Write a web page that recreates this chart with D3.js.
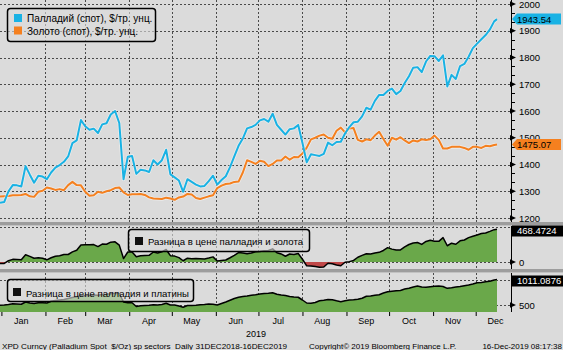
<!DOCTYPE html>
<html>
<head>
<meta charset="utf-8">
<script src="https://cdn.jsdelivr.net/npm/d3@7"></script>
<style>
  html, body { margin: 0; padding: 0; background: #dbdbdb; }
  svg { display: block; font-family: "Liberation Sans", Arial, sans-serif; }
</style>
</head>
<body>
<svg id="chart" width="563" height="350"></svg>
<script>
// Sampling dates (every third calendar day)
const dates = [
  "2018-12-31","2019-01-03","2019-01-06","2019-01-09","2019-01-12","2019-01-15","2019-01-18","2019-01-21","2019-01-24","2019-01-27","2019-01-30",
  "2019-02-02","2019-02-05","2019-02-08","2019-02-11","2019-02-14","2019-02-17","2019-02-20","2019-02-23","2019-02-26",
  "2019-03-01","2019-03-04","2019-03-07","2019-03-10","2019-03-13","2019-03-16","2019-03-19","2019-03-22","2019-03-25","2019-03-28","2019-03-31",
  "2019-04-03","2019-04-06","2019-04-09","2019-04-12","2019-04-15","2019-04-18","2019-04-21","2019-04-24","2019-04-27","2019-04-30",
  "2019-05-03","2019-05-06","2019-05-09","2019-05-12","2019-05-15","2019-05-18","2019-05-21","2019-05-24","2019-05-27","2019-05-30",
  "2019-06-02","2019-06-05","2019-06-08","2019-06-11","2019-06-14","2019-06-17","2019-06-20","2019-06-23","2019-06-26","2019-06-29",
  "2019-07-02","2019-07-05","2019-07-08","2019-07-11","2019-07-14","2019-07-17","2019-07-20","2019-07-23","2019-07-26","2019-07-29",
  "2019-08-01","2019-08-04","2019-08-07","2019-08-10","2019-08-13","2019-08-16","2019-08-19","2019-08-22","2019-08-25","2019-08-28","2019-08-31",
  "2019-09-03","2019-09-06","2019-09-09","2019-09-12","2019-09-15","2019-09-18","2019-09-21","2019-09-24","2019-09-27","2019-09-30",
  "2019-10-03","2019-10-06","2019-10-09","2019-10-12","2019-10-15","2019-10-18","2019-10-21","2019-10-24","2019-10-27","2019-10-30",
  "2019-11-02","2019-11-05","2019-11-08","2019-11-11","2019-11-14","2019-11-17","2019-11-20","2019-11-23","2019-11-26","2019-11-29",
  "2019-12-02","2019-12-05","2019-12-08","2019-12-11","2019-12-14","2019-12-16"
];

// Palladium spot, $/oz
const palladium = [
  1257,1260,1300,1323,1322,1318,1394,1362,1332,1358,1355,
  1345,1370,1388,1398,1410,1430,1480,1490,1566,
  1543,1530,1534,1518,1550,1554,1587,1600,1555,1345,1429,
  1432,1365,1380,1378,1372,1416,1400,1416,1455,1363,
  1352,1340,1298,1345,1335,1325,1318,1320,1338,1358,
  1325,1342,1356,1390,1430,1470,1497,1535,1540,1548,
  1565,1570,1560,1590,1548,1530,1512,1532,1535,1548,
  1480,1408,1438,1435,1432,1440,1482,1472,1484,1485,1516,
  1540,1558,1560,1580,1612,1605,1638,1660,1660,1675,
  1684,1663,1675,1705,1730,1762,1764,1745,1785,1806,
  1805,1787,1808,1692,1735,1720,1768,1776,1803,1835,
  1852,1868,1884,1905,1935,1943.5424
];

// Gold spot, $/oz
const gold = [
  1280,1281,1282,1285,1285,1286,1290,1281,1279,1298,1302,
  1314,1310,1305,1308,1304,1323,1335,1323,1322,
  1298,1283,1285,1298,1294,1300,1304,1312,1314,1296,1286,
  1289,1289,1290,1286,1277,1273,1272,1271,1276,1273,
  1268,1277,1280,1290,1288,1275,1271,1276,1281,1285,
  1312,1321,1327,1329,1335,1336,1370,1416,1410,1402,
  1414,1410,1394,1402,1415,1415,1430,1418,1428,1427,
  1441,1463,1494,1500,1508,1512,1500,1496,1526,1538,1520,
  1535,1536,1492,1486,1494,1491,1508,1522,1495,1470,
  1500,1493,1502,1490,1480,1490,1486,1494,1492,1494,
  1508,1492,1460,1460,1466,1466,1466,1462,1455,1466,
  1466,1462,1470,1468,1473,1475.07
];

// Palladium minus platinum, $/oz
const pdPtSpread = [
  495,498,510,525,520,515,560,540,530,545,545,
  540,575,590,600,610,630,650,665,690,
  685,690,700,695,710,715,725,735,730,560,545,
  545,470,485,490,495,505,500,510,535,500,
  500,480,455,490,490,495,505,510,520,515,
  500,530,560,595,630,655,670,680,695,705,
  720,730,735,745,715,700,690,668,660,655,
  600,540,535,550,585,595,610,605,585,567,585,
  600,605,615,635,675,680,695,705,740,765,
  775,785,790,820,835,860,880,860,853,865,
  875,880,870,833,845,860,868,885,900,920,
  945,950,965,975,1000,1011.0876
];

const monthNames = ["Jan","Feb","Mar","Apr","May","Jun","Jul","Aug","Sep","Oct","Nov","Dec"];
const priceTicks = [1200,1300,1400,1500,1600,1700,1800,1900,2000];
const pdAuTicks = [0];
const pdPtTicks = [500];
const pdAuGrid = [0, 500];
const pdPtGrid = [500, 1000];

const legendMain = ["Палладий (спот), $/тр. унц.", "Золото (спот), $/тр. унц."];
const legendPdAu = "Разница в цене палладия и золота";
const legendPdPt = "Разница в цене палладия и платины";
const footerLeft = "XPD Curncy (Palladium Spot  $/Oz) sp sectors  Daily 31DEC2018-16DEC2019";
const footerMid = "Copyright\u00A9 2019 Bloomberg Finance L.P.";
const footerRight = "16-Dec-2019 08:17:38";

const COL_PD = "#19b2e4";
const COL_AU = "#f5801f";
const COL_GREEN = "#6aa84a";
const COL_RED = "#c04848";
const GRID = "#4a4a4a";

const parse = d3.timeParse("%Y-%m-%d");
const rows = dates.map((d, i) => ({
  date: parse(d),
  pd: palladium[i],
  au: gold[i],
  pdau: palladium[i] - gold[i],
  pdpt: pdPtSpread[i]
}));
const last = rows[rows.length - 1];

const svg = d3.select("#chart");
const W = 563, axisX = 511;

const x = d3.scaleTime()
  .domain([parse("2018-12-31"), parse("2019-12-16")])
  .range([0, 497]);

const panels = [
  { top: 0,   bottom: 222, y: d3.scaleLinear().domain([1200, 2000]).range([218, 4]) },
  { top: 226, bottom: 269, y: d3.scaleLinear().domain([0, 500]).range([262, 227]) },
  { top: 273, bottom: 312, y: d3.scaleLinear().domain([500, 1000]).range([305, 280]) }
];
const [pMain, pAu, pPt] = panels;

svg.append("rect").attr("width", W).attr("height", 350).attr("fill", "#dbdbdb");

// Panel separators
[222, 269].forEach(yy => {
  svg.append("rect").attr("x", 0).attr("y", yy).attr("width", W).attr("height", 3).attr("fill", "#9d9d9d");
  svg.append("rect").attr("x", 0).attr("y", yy + 3).attr("width", W).attr("height", 1).attr("fill", "#c2c2c2");
});

// Clip paths
const defs = svg.append("defs");
panels.forEach((p, i) => {
  defs.append("clipPath").attr("id", "clip" + i)
    .append("rect").attr("x", 0).attr("y", p.top).attr("width", axisX).attr("height", p.bottom - p.top);
});
defs.append("clipPath").attr("id", "clipPos")
  .append("rect").attr("x", 0).attr("y", pAu.top).attr("width", axisX).attr("height", pAu.y(0) - pAu.top);
defs.append("clipPath").attr("id", "clipNeg")
  .append("rect").attr("x", 0).attr("y", pAu.y(0)).attr("width", axisX).attr("height", pAu.bottom - pAu.y(0));

// Grid lines
const monthStarts = d3.range(12).map(m => new Date(2019, m, 1));
panels.forEach((p, i) => {
  const g = svg.append("g").attr("clip-path", `url(#clip${i})`);
  const hVals = i === 0 ? priceTicks : (i === 1 ? pdAuGrid : pdPtGrid);
  g.selectAll("line.h").data(hVals).join("line")
    .attr("x1", 0).attr("x2", axisX)
    .attr("y1", d => Math.round(p.y(d)) + 0.5).attr("y2", d => Math.round(p.y(d)) + 0.5)
    .attr("stroke", GRID).attr("stroke-dasharray", "2,2");
  g.selectAll("line.v").data(monthStarts.slice(1)).join("line")
    .attr("x1", d => Math.round(x(d)) + 0.5).attr("x2", d => Math.round(x(d)) + 0.5)
    .attr("y1", p.top).attr("y2", p.bottom)
    .attr("stroke", GRID).attr("stroke-dasharray", "2,2");
});

// Main panel: palladium and gold lines
const gMain = svg.append("g").attr("clip-path", "url(#clip0)");
const lineOf = key => d3.line().x(d => x(d.date)).y(d => pMain.y(d[key]));
[["au", COL_AU], ["pd", COL_PD]].forEach(([key, col]) => {
  gMain.append("path").datum(rows).attr("d", lineOf(key))
    .attr("fill", "none").attr("stroke", "#ffffff").attr("stroke-opacity", 0.45)
    .attr("stroke-width", 3.6).attr("stroke-linejoin", "round");
  gMain.append("path").datum(rows).attr("d", lineOf(key))
    .attr("fill", "none").attr("stroke", col)
    .attr("stroke-width", 2).attr("stroke-linejoin", "round");
});

// Panel 2: palladium minus gold
const gAu = svg.append("g").attr("clip-path", "url(#clip1)");
const areaAu = d3.area().x(d => x(d.date)).y0(pAu.y(0)).y1(d => pAu.y(d.pdau));
gAu.append("path").datum(rows).attr("d", areaAu).attr("fill", COL_GREEN).attr("clip-path", "url(#clipPos)");
gAu.append("path").datum(rows).attr("d", areaAu).attr("fill", COL_RED).attr("clip-path", "url(#clipNeg)");
gAu.append("path").datum(rows)
  .attr("d", d3.line().x(d => x(d.date)).y(d => pAu.y(d.pdau)))
  .attr("fill", "none").attr("stroke", "#000").attr("stroke-width", 1.5).attr("stroke-linejoin", "round");

// Panel 3: palladium minus platinum
const gPt = svg.append("g").attr("clip-path", "url(#clip2)");
gPt.append("path").datum(rows)
  .attr("d", d3.area().x(d => x(d.date)).y0(pPt.bottom).y1(d => pPt.y(d.pdpt)))
  .attr("fill", COL_GREEN);
gPt.append("path").datum(rows)
  .attr("d", d3.line().x(d => x(d.date)).y(d => pPt.y(d.pdpt)))
  .attr("fill", "none").attr("stroke", "#000").attr("stroke-width", 1.5).attr("stroke-linejoin", "round");

// Right axes
function rightAxis(p, ticks, minorStep) {
  const g = svg.append("g");
  g.append("line").attr("x1", axisX + 0.5).attr("x2", axisX + 0.5)
    .attr("y1", p.top).attr("y2", p.bottom).attr("stroke", "#000");
  if (minorStep) {
    const [lo, hi] = p.y.domain();
    const minors = d3.range(lo, hi + 0.01, minorStep).filter(v => !ticks.includes(Math.round(v)));
    g.selectAll("line.minor").data(minors).join("line")
      .attr("x1", axisX).attr("x2", axisX + 4)
      .attr("y1", d => Math.round(p.y(d)) + 0.5).attr("y2", d => Math.round(p.y(d)) + 0.5)
      .attr("stroke", "#000");
  }
  g.selectAll("path.tri").data(ticks).join("path")
    .attr("d", d => { const yy = p.y(d); return `M${axisX - 1},${yy - 2.8}L${axisX + 5},${yy}L${axisX - 1},${yy + 2.8}Z`; })
    .attr("fill", "#000");
  const ax = d3.axisRight(p.y).tickValues(ticks).tickSize(0).tickPadding(0).tickFormat(d3.format("d"));
  const ga = svg.append("g").attr("transform", `translate(${axisX + 8},0)`).call(ax);
  ga.select(".domain").remove();
  ga.selectAll("text").attr("font-size", "9.5px").attr("fill", "#000")
    .attr("font-family", "Liberation Sans, Arial, sans-serif");
}
rightAxis(pMain, priceTicks, 100 / 3);
rightAxis(pAu, pdAuTicks, 0);
rightAxis(pPt, pdPtTicks, 0);

// Last-value tags
function tag(yy, fill, text, textFill, pointed) {
  const g = svg.append("g");
  const h = 11;
  const d = pointed
    ? `M${axisX + 1},${yy}L${axisX + 6},${yy - h / 2}L561,${yy - h / 2}L561,${yy + h / 2}L${axisX + 6},${yy + h / 2}Z`
    : `M${axisX + 1},${yy - h / 2}L563,${yy - h / 2}L563,${yy + h / 2}L${axisX + 1},${yy + h / 2}Z`;
  g.append("path").attr("d", d).attr("fill", fill);
  g.append("text").attr("x", axisX + 6).attr("y", yy).attr("dy", "0.36em")
    .attr("font-size", "9.5px").attr("fill", textFill).text(text);
}
tag(pMain.y(last.pd), COL_PD, last.pd.toFixed(2), "#000", true);
tag(pMain.y(last.au), COL_AU, last.au.toFixed(2), "#000", true);
tag(Math.max(pAu.y(last.pdau), 231), "#000", last.pdau.toFixed(4), "#fff", false);
tag(Math.max(pPt.y(last.pdpt), 281), "#000", last.pdpt.toFixed(4), "#fff", false);

// Legends
function legendBox(x0, y0, w, h) {
  return svg.append("rect").attr("x", x0 + 0.5).attr("y", y0 + 0.5).attr("width", w).attr("height", h)
    .attr("rx", 3).attr("fill", "#dcdcdc").attr("fill-opacity", 0.62)
    .attr("stroke", "#000").attr("stroke-width", 1.5);
}
legendBox(7, 8, 148, 33);
[[COL_PD, legendMain[0], 14], [COL_AU, legendMain[1], 26.5]].forEach(([c, t, yy]) => {
  svg.append("rect").attr("x", 14).attr("y", yy).attr("width", 8).attr("height", 8).attr("fill", c);
  svg.append("text").attr("x", 27).attr("y", yy + 8).attr("font-size", "10px").attr("fill", "#000").text(t);
});

legendBox(128, 229, 181, 22);
svg.append("rect").attr("x", 135).attr("y", 237).attr("width", 8).attr("height", 8).attr("fill", "#111");
svg.append("text").attr("x", 148).attr("y", 245).attr("font-size", "9.6px").attr("fill", "#000")
  .attr("textLength", 155).attr("lengthAdjust", "spacingAndGlyphs").text(legendPdAu);

legendBox(7, 279, 186, 22);
svg.append("rect").attr("x", 13).attr("y", 288).attr("width", 8).attr("height", 8).attr("fill", "#111");
svg.append("text").attr("x", 26).attr("y", 296.5).attr("font-size", "9.6px").attr("fill", "#000")
  .attr("textLength", 163).attr("lengthAdjust", "spacingAndGlyphs").text(legendPdPt);

// Bottom time axis
const xa = d3.axisBottom(x).tickValues(monthStarts).tickSize(4).tickFormat("");
const gx = svg.append("g").attr("transform", "translate(0,312)").call(xa);
gx.select(".domain").remove();
gx.selectAll(".tick line").attr("stroke", "#000");
svg.selectAll("text.month").data(monthNames).join("text")
  .attr("class", "month")
  .attr("x", (d, i) => x(new Date(2019, i, 15)))
  .attr("y", 324).attr("text-anchor", "middle").attr("font-size", "9px").attr("fill", "#000")
  .text(d => d);
svg.append("text").attr("x", 256).attr("y", 336.5).attr("text-anchor", "middle")
  .attr("font-size", "9px").attr("fill", "#000").text("2019");

// Footer
svg.append("text").attr("x", 2).attr("y", 349).attr("font-size", "8px").attr("fill", "#000")
  .style("white-space", "pre").attr("textLength", 285).attr("lengthAdjust", "spacingAndGlyphs")
  .text(footerLeft);
svg.append("text").attr("x", 309).attr("y", 349).attr("font-size", "8px").attr("fill", "#000").text(footerMid);
svg.append("text").attr("x", 562).attr("y", 349).attr("text-anchor", "end").attr("font-size", "8px").attr("fill", "#000").text(footerRight);
</script>
</body>
</html>
